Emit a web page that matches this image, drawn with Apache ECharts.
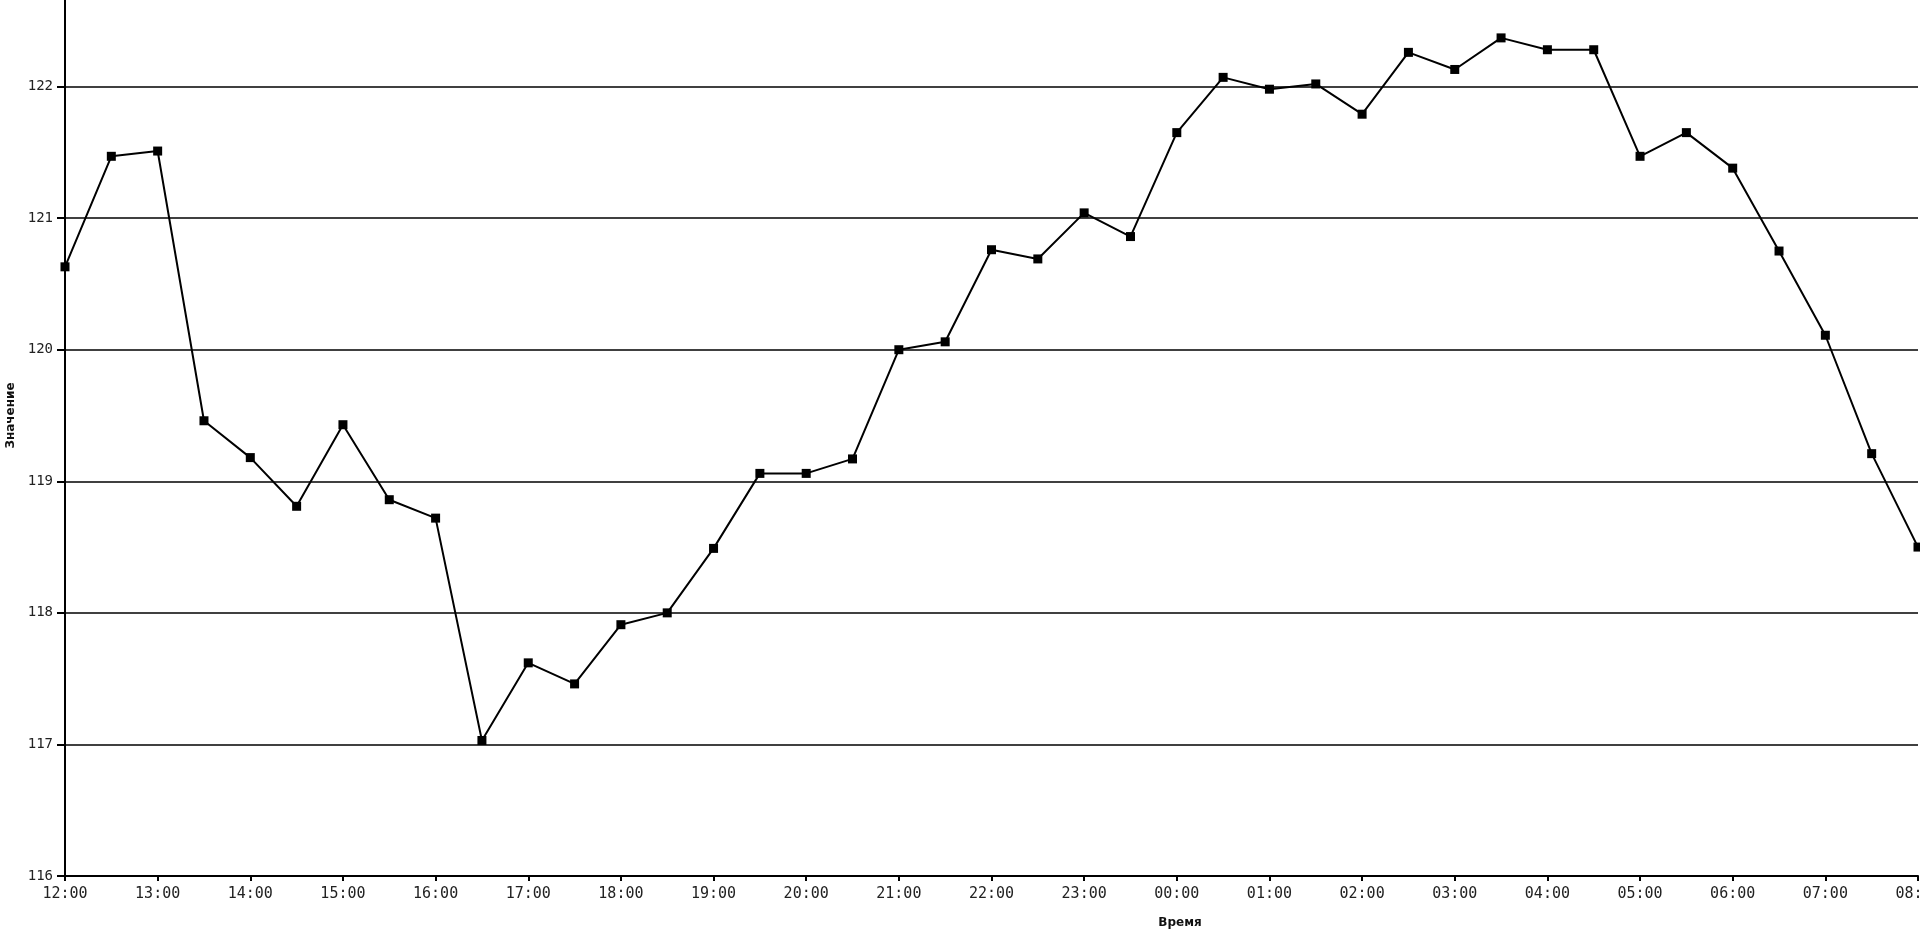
<!DOCTYPE html>
<html>
<head>
<meta charset="utf-8">
<script src="https://cdn.jsdelivr.net/npm/echarts@6/dist/echarts.min.js"></script>
<style>
html,body{margin:0;padding:0;background:#fff;}
#chart{width:1920px;height:930px;}
</style>
</head>
<body>
<div id="chart"></div>
<script>
const times = ["12:00","12:30","13:00","13:30","14:00","14:30","15:00","15:30","16:00","16:30",
  "17:00","17:30","18:00","18:30","19:00","19:30","20:00","20:30","21:00","21:30",
  "22:00","22:30","23:00","23:30","00:00","00:30","01:00","01:30","02:00","02:30",
  "03:00","03:30","04:00","04:30","05:00","05:30","06:00","06:30","07:00","07:30","08:00"];
const values = [120.63,121.47,121.51,119.46,119.18,118.81,119.43,118.86,118.72,117.03,
  117.62,117.46,117.91,118.00,118.49,119.06,119.06,119.17,120.00,120.06,
  120.76,120.69,121.04,120.86,121.65,122.07,121.98,122.02,121.79,122.26,
  122.13,122.37,122.28,122.28,121.47,121.65,121.38,120.75,120.11,119.21,118.50];
const yMin = 116, yMax = 123, yStep = 1;
const xName = "Время", yName = "Значение";

const chart = echarts.init(document.getElementById('chart'));
chart.setOption({
  animation: false,
  backgroundColor: '#fff',
  grid: { left: 65, right: 2, top: -45, bottom: 54, containLabel: false, outerBoundsMode: 'none' },
  xAxis: {
    type: 'category',
    data: times,
    boundaryGap: false,
    name: xName,
    nameLocation: 'middle',
    nameGap: 41,
    nameTextStyle: { fontFamily: 'DejaVu Sans', fontWeight: 'bold', fontSize: 12, color: '#111', padding: [0,0,0,377] },
    axisLine: { lineStyle: { color: '#000', width: 2 } },
    axisTick: { interval: 1, length: 5, lineStyle: { color: '#000', width: 2 } },
    axisLabel: { interval: 1, margin: 11, fontFamily: 'DejaVu Sans Mono', fontSize: 15, color: '#222' },
    splitLine: { show: false }
  },
  yAxis: {
    type: 'value',
    min: yMin, max: yMax, interval: yStep,
    name: yName,
    nameLocation: 'middle',
    nameGap: 43,
    nameTextStyle: { fontFamily: 'DejaVu Sans', fontWeight: 'bold', fontSize: 12, color: '#111' },
    axisLine: { show: true, lineStyle: { color: '#000', width: 2 } },
    axisTick: { show: true, length: 8, lineStyle: { color: '#000', width: 2 } },
    axisLabel: { margin: 12, fontFamily: 'DejaVu Sans Mono', fontSize: 14, color: '#222' },
    splitLine: { show: true, lineStyle: { color: '#000', width: 1.6 } }
  },
  series: [{
    type: 'line',
    data: values,
    symbol: 'rect',
    symbolSize: 9,
    lineStyle: { color: '#000', width: 2 },
    itemStyle: { color: '#000' }
  }]
});
</script>
</body>
</html>
